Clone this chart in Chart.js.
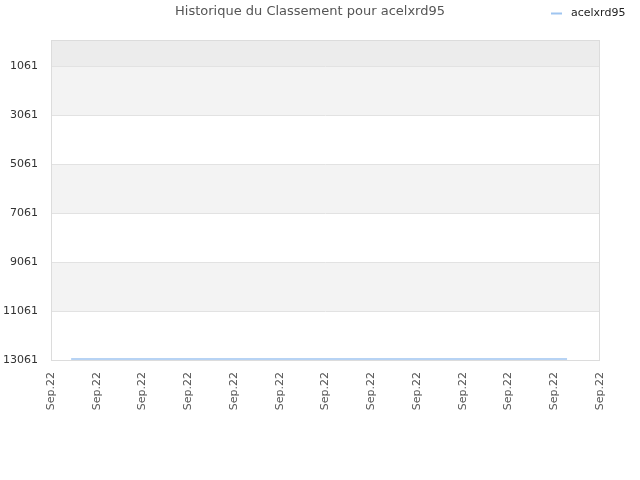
<!DOCTYPE html>
<html>
<head>
<meta charset="utf-8">
<script src="https://cdn.jsdelivr.net/npm/chart.js@4/dist/chart.umd.min.js"></script>
<style>
  html, body { margin: 0; padding: 0; background: #fff; }
  #wrap { width: 640px; height: 480px; }
</style>
</head>
<body>
<div id="wrap"><canvas id="rankChart" width="640" height="480"></canvas></div>
<script>
/* DATA */
let chart_title = "Historique du Classement pour acelxrd95";
let player_name = "acelxrd95";
let x_tick_label = "Sep.22";
let x_positions = [0.44, 2, 4, 6, 8, 10, 11.28];
let rank_values = [13020, 13020, 13020, 13020, 13020, 13020, 13020];
let y_ticks = [1061, 3061, 5061, 7061, 9061, 11061, 13061];
let band_colors = ["#ececec", "#f3f3f3", "#ffffff", "#f3f3f3", "#ffffff", "#f3f3f3", "#ffffff"];

/* PLUGIN : background bands, border, title, legend */
const decorPlugin = {
  id: "decor",
  beforeDatasetsDraw(chart) {
    const ctx = chart.ctx;
    const area = chart.chartArea;
    const y = chart.scales.y;
    let edges = [y.min].concat(y_ticks);
    ctx.save();
    for (let i = 0; i < edges.length - 1; i++) {
      let top = y.getPixelForValue(edges[i]);
      let bot = y.getPixelForValue(edges[i + 1]);
      ctx.fillStyle = band_colors[i];
      ctx.fillRect(area.left, top, area.right - area.left, bot - top);
    }
    // grid lines over bands
    ctx.strokeStyle = "#e2e2e2";
    ctx.lineWidth = 1;
    y_ticks.forEach(function (v) {
      let p = Math.round(y.getPixelForValue(v)) + 0.5;
      ctx.beginPath();
      ctx.moveTo(area.left, p);
      ctx.lineTo(area.right, p);
      ctx.stroke();
    });
    ctx.strokeStyle = "#dcdcdc";
    ctx.strokeRect(area.left + 0.5, area.top + 0.5, area.right - area.left - 1, area.bottom - area.top);
    ctx.restore();
  },
  afterDraw(chart) {
    const ctx = chart.ctx;
    ctx.save();
    ctx.fillStyle = "#555";
    ctx.font = "13px 'DejaVu Sans'";
    ctx.textAlign = "center";
    ctx.textBaseline = "middle";
    ctx.fillText(chart_title, 310, 12);
    // legend
    ctx.strokeStyle = "#9fc5f0";
    ctx.lineWidth = 2;
    ctx.beginPath();
    ctx.moveTo(551, 13.5);
    ctx.lineTo(562, 13.5);
    ctx.stroke();
    ctx.fillStyle = "#222";
    ctx.font = "11px 'DejaVu Sans'";
    ctx.textAlign = "left";
    ctx.fillText(player_name, 571, 13);
    ctx.restore();
  }
};

/* CHART SETTING */
const chart_dom = document.getElementById("rankChart").getContext("2d");

const rankChart = new Chart(chart_dom, {
  type: "line",
  data: {
    datasets: [
      {
        label: player_name,
        data: x_positions.map(function (x, i) { return { x: x, y: rank_values[i] }; }),
        borderColor: "#9fc5f0",
        borderWidth: 1.5,
        pointRadius: 0,
        fill: false,
        tension: 0
      }
    ]
  },
  options: {
    responsive: false,
    animation: false,
    layout: { padding: { top: 40, right: 40, left: 0, bottom: 0 } },
    plugins: {
      legend: { display: false },
      title: { display: false },
      tooltip: { enabled: false }
    },
    scales: {
      x: {
        type: "linear",
        min: 0,
        max: 12,
        grid: { display: false },
        border: { display: false },
        ticks: {
          stepSize: 1,
          maxRotation: 90,
          minRotation: 90,
          color: "#555",
          font: { family: "DejaVu Sans", size: 11 },
          padding: 4,
          callback: function () { return x_tick_label; }
        },
        afterFit: function (scale) { scale.height = 120; }
      },
      y: {
        reverse: true,
        min: 0,
        max: 13061,
        grid: { display: false },
        border: { display: false },
        afterBuildTicks: function (scale) {
          scale.ticks = y_ticks.map(function (v) { return { value: v }; });
        },
        ticks: {
          color: "#333",
          font: { family: "DejaVu Sans", size: 11 },
          padding: 5,
          callback: function (v) { return String(v); }
        },
        afterFit: function (scale) { scale.width = 51; }
      }
    }
  },
  plugins: [decorPlugin]
});
</script>
</body>
</html>
